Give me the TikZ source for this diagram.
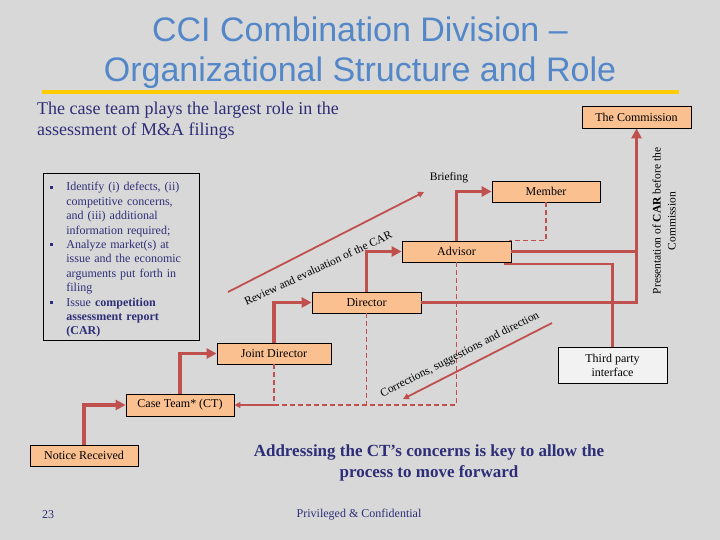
\documentclass[tikz,border=0pt]{standalone}
\usepackage{fontspec}
\setmainfont{Liberation Serif}
\newfontfamily\titlefont{Liberation Sans}
\usetikzlibrary{arrows.meta,calc}
\definecolor{slidegray}{RGB}{216,216,216}
\definecolor{peach}{RGB}{250,192,144}
\definecolor{linkred}{RGB}{192,80,77}
\definecolor{navy}{RGB}{46,46,120}
\definecolor{titleblue}{RGB}{84,135,200}
\definecolor{rulegold}{RGB}{255,204,0}
\definecolor{paleface}{RGB}{242,242,242}

\begin{document}
\begin{tikzpicture}[x=1pt,y=-1pt,
    box/.style={draw=black, line width=0.8pt, fill=peach, inner sep=0pt, font=\fontsize{12}{14}\selectfont},
    bigarrow/.style={draw=linkred, line width=3.5pt, -{Triangle[length=10pt,width=10pt]}},
    bigline/.style={draw=linkred, line width=3.5pt},
    feedline/.style={draw=linkred, line width=2.2pt},
    thinarrow/.style={draw=linkred, line width=1.8pt, -{Triangle[length=6pt,width=6pt]}},
    dashline/.style={draw=linkred, line width=1.6pt, dash pattern=on 5pt off 3pt},
    slanted/.style={font=\fontsize{11.5}{13}\selectfont, inner sep=0pt},
    navytext/.style={text=navy, inner sep=0pt}]
    \useasboundingbox[fill=slidegray] (0,0) rectangle (720,540);
    \node[font=\titlefont\fontsize{34}{40}\selectfont, text=titleblue, align=center] (title) at (360,53)
        {CCI Combination Division –\\Organizational Structure and Role};
    \draw[rulegold, line width=4.5pt] (42,92) -- (679,92);
    \node[navytext, anchor=west, align=left, font=\fontsize{18}{21}\selectfont] (lead) at (37,121)
        {The case team plays the largest role in the\\assessment of M\&A filings};

    \node[box, minimum width=109pt, minimum height=22pt] (comm) at (636.5,117) {The Commission};
    \node[box, minimum width=108pt, minimum height=21pt] (member) at (546,191.5) {Member};
    \node[box, minimum width=109pt, minimum height=21pt] (advisor) at (456.5,251.5) {Advisor};
    \node[box, minimum width=109pt, minimum height=21pt] (director) at (366.5,302.5) {Director};
    \node[box, minimum width=114pt, minimum height=21pt] (joint) at (274,353.5) {Joint Director};
    \node[box, minimum width=108pt, minimum height=22pt] (caseteam) at (180,405) {Case Team* (CT)};
    \node[box, minimum width=108pt, minimum height=21pt] (notice) at (84,455.5) {Notice Received};
    \node[box, fill=paleface, minimum width=109pt, minimum height=36pt, align=center] (third) at (612.5,365)
        {Third party\\interface};

    \node[draw=black, line width=0.8pt, text=navy, anchor=north west, minimum height=167pt,
        inner xsep=7pt, inner ysep=0pt, text width=142pt, font=\fontsize{12}{14.4}\selectfont] (tasks) at (43,173)
        {\begin{list}{\raisebox{2pt}{\rule{3pt}{3pt}}}{\setlength\leftmargin{16pt}\setlength\labelwidth{3pt}%
            \setlength\labelsep{13pt}\setlength\itemsep{0pt}\setlength\parsep{0pt}\setlength\topsep{0pt}}
        \raggedright
        \item Identify (i) defects, (ii)\\competitive concerns,\\and (iii) additional\\information required;
        \item Analyze market(s) at\\issue and the economic\\arguments put forth in\\filing
        \item Issue \textbf{competition}\\\textbf{assessment report}\\\textbf{(CAR)}
        \end{list}};

    \draw[bigarrow] (notice.north) |- (caseteam.west);
    \draw[bigarrow] (caseteam.north) |- (joint.west);
    \draw[bigarrow] (joint.north) |- (director.west);
    \draw[bigarrow] (director.north) |- (advisor.west);
    \draw[bigarrow] (advisor.north) |- (member.west);
    \draw[bigarrow] (director.east) -| (comm.south);
    \draw[bigline] (advisor.east) -- (advisor.east -| comm.south);

    \coordinate (tpstart) at ([xshift=-7pt,yshift=-1.5pt]advisor.south east);
    \draw[feedline] (tpstart) -| (third.north);

    \draw[dashline] (member.south) |- ([xshift=-2pt]advisor.north east);
    \coordinate (jdfoot) at (joint.south |- caseteam.east);
    \draw[dashline] (advisor.south) |- (jdfoot);
    \draw[dashline] (director.south) -- (director.south |- caseteam.east);
    \draw[dashline] (joint.south) -- (jdfoot);
    \draw[thinarrow] (jdfoot) -- (caseteam.east);

    \coordinate (revtail) at (228,292);
    \coordinate (revhead) at (424,192);
    \draw[thinarrow] (revtail) -- (revhead);
    \node[slanted, rotate=25] (revlabel) at (318,268) {Review and evaluation of the CAR};
    \node[slanted] (brief) at (449,178) {Briefing};

    \coordinate (cortail) at (552,323);
    \coordinate (corhead) at (403,399);
    \draw[thinarrow] (cortail) -- (corhead);
    \node[slanted, rotate=27] (corlabel) at (460,355) {Corrections, suggestions and direction};

    \node[align=center, rotate=90, inner sep=0pt, font=\fontsize{11.5}{15}\selectfont] (present) at (664,221)
        {Presentation of \textbf{CAR} before the\\Commission};

    \node[navytext, align=center, font=\bfseries\fontsize{17}{21}\selectfont] (keynote) at (429,463)
        {Addressing the CT’s concerns is key to allow the\\process to move forward};
    \node[navytext, font=\fontsize{12}{14}\selectfont] (pageno) at (48,515) {23};
    \node[navytext, font=\fontsize{12}{14}\selectfont] (conf) at (359,515) {Privileged \& Confidential};
\end{tikzpicture}
\end{document}
